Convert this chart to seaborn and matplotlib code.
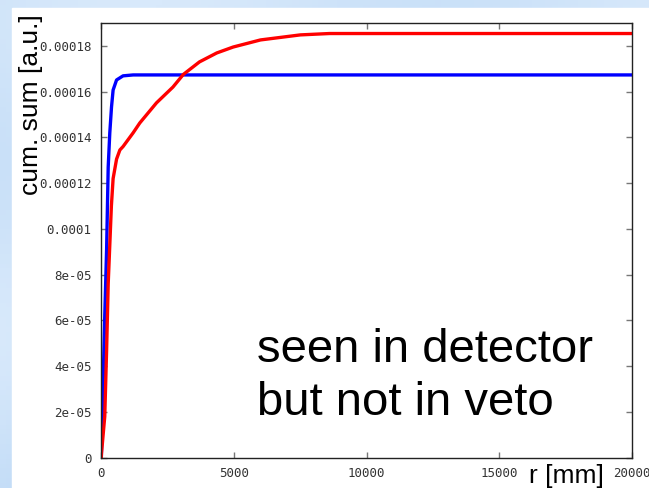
import numpy as np
import pandas as pd
import matplotlib
matplotlib.use("Agg")
import matplotlib.pyplot as plt
from matplotlib.patches import Rectangle
import seaborn as sns

# ---- data ----
r_blue = [0, 70, 130, 200, 260, 320, 385, 445, 575, 820, 1200, 20000]
v_blue = [0, 3.3e-5, 6.2e-5, 9.1e-5, 1.27e-4, 1.42e-4, 1.533e-4, 1.607e-4,
          1.651e-4, 1.669e-4, 1.673e-4, 1.673e-4]

r_red = [0, 8, 130, 200, 260, 320, 380, 445, 575, 700, 820, 1200, 1450, 2080,
         2700, 3090, 3700, 4350, 4970, 6000, 7500, 8600, 20000]
v_red = [0, 2e-6, 1.8e-5, 4.7e-5, 7.6e-5, 9.3e-5, 1.10e-4, 1.22e-4, 1.305e-4,
         1.345e-4, 1.36e-4, 1.42e-4, 1.463e-4, 1.551e-4, 1.62e-4, 1.675e-4,
         1.73e-4, 1.769e-4, 1.795e-4, 1.826e-4, 1.848e-4, 1.854e-4, 1.854e-4]

x_ticks = [0, 5000, 10000, 15000, 20000]
x_tick_labels = ["0", "5000", "10000", "15000", "20000"]
y_ticks = [0, 2e-5, 4e-5, 6e-5, 8e-5, 1e-4, 1.2e-4, 1.4e-4, 1.6e-4, 1.8e-4]
y_tick_labels = ["0", "2e-05", "4e-05", "6e-05", "8e-05", "0.0001",
                 "0.00012", "0.00014", "0.00016", "0.00018"]

df = pd.concat([
    pd.DataFrame({"r": r_blue, "v": v_blue, "s": "veto"}),
    pd.DataFrame({"r": r_red, "v": v_red, "s": "detector"}),
])

sns.set_style("ticks")
plt.rcParams["font.family"] = ["DejaVu Sans"]

W, H = 649, 488
fig = plt.figure(figsize=(W / 100, H / 100), dpi=100)

# background: light-blue slide with white panel
bg = fig.add_axes([0, 0, 1, 1], zorder=-10)
gy, gx = np.mgrid[0:1:100j, 0:1:100j]
grad = 0.5 + 0.25 * np.sin(gx * 7 + gy * 3) + 0.25 * np.cos(gy * 9)
bg.imshow(grad, cmap=matplotlib.colors.LinearSegmentedColormap.from_list(
    "b", ["#bdd9f6", "#d8e9fb"]), aspect="auto", extent=[0, 1, 0, 1])
bg.add_patch(Rectangle((12 / W, 0), 1, (H - 8) / H, color="white",
                       transform=bg.transAxes))
bg.set_xlim(0, 1); bg.set_ylim(0, 1)
bg.axis("off")

ax = fig.add_axes([101.3 / W, (H - 457.7) / H, (632 - 101.3) / W, (457.7 - 23) / H])
ax.set_facecolor("white")

sns.lineplot(data=df, x="r", y="v", hue="s", palette={"veto": "#0000ff", "detector": "#ff0000"},
             estimator=None, sort=False, linewidth=2.4, legend=False, ax=ax)

ax.set_xlim(0, 20000)
ax.set_ylim(0, 1.9e-4)
ax.set_xticks(x_ticks)
ax.set_xticklabels(x_tick_labels)
ax.set_yticks(y_ticks)
ax.set_yticklabels(y_tick_labels)
ax.set_xlabel("")
ax.set_ylabel("")
ax.tick_params(direction="in", length=4, width=1, color="#777777",
               labelsize=9, labelcolor="#333333", top=True, right=True, pad=7)
for lab in ax.get_xticklabels() + ax.get_yticklabels():
    lab.set_family(["DejaVu Sans Mono"])
for sp in ax.spines.values():
    sp.set_visible(True)
    sp.set_color("#222222")
    sp.set_linewidth(1.0)

big = ["Liberation Sans", "DejaVu Sans"]
fig.text(31 / W, (H - 105) / H, "cum. sum [a.u.]", rotation=90, ha="center",
         va="center", fontsize=19, family=big, color="black", zorder=5)
fig.text(529 / W, (H - 483) / H, "r [mm]", ha="left", va="baseline",
         fontsize=19, family=big, color="black", zorder=5)

fig.text(257 / W, (H - 362) / H, "seen in detector", ha="left", va="baseline",
         fontsize=34, family=big, color="black")
fig.text(257 / W, (H - 415) / H, "but not in veto", ha="left", va="baseline",
         fontsize=34, family=big, color="black")

fig.savefig("out.png", dpi=100)
